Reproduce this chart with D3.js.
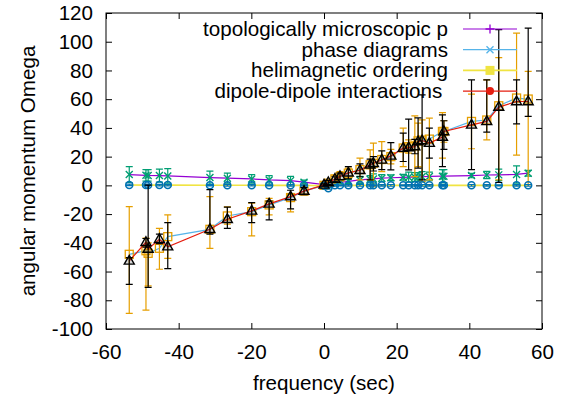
<!DOCTYPE html>
<html>
<head>
<meta charset="utf-8">
<script src="https://cdn.jsdelivr.net/npm/d3@7"></script>
<style>
body { margin: 0; background: #fff; }
svg text { font-family: "Liberation Sans", Arial, Helvetica, sans-serif; font-size: 20.6px; fill: #000; }
</style>
</head>
<body>
<div id="chart"></div>
<script>
// datos
const freq = [-53.6, -49.0, -48.4, -45.3, -43.0, -31.4, -26.6, -19.9, -15.1, -9.2, -5.5, 0.0, 1.2, 3.0, 4.4, 6.7, 9.9, 12.7, 13.6, 15.9, 18.4, 21.8, 23.3, 25.0, 25.9, 27.0, 29.0, 32.6, 33.0, 40.6, 44.8, 48.1, 53.0, 56.2];

const seriesNames = ['topologically microscopic p', 'phase diagrams', 'helimagnetic ordering', 'dipole-dipole interactions '];

const topoY = [7.5, 7.0, 6.9, 6.8, 6.6, 5.4, 5.0, 4.5, 3.8, 3.3, 2.2, 0.5, 0.8, 1.5, 2.0, 2.8, 3.8, 4.3, 4.5, 5.0, 5.3, 5.6, 5.7, 5.8, 5.9, 6.0, 6.2, 6.4, 6.4, 6.8, 7.2, 7.3, 7.6, 8.5];
const topoErr = [5.5, 4, 4, 4.5, 5, 4.5, 3.5, 3, 3, 3, 1.5, 1, 1, 1, 1, 1.5, 2.5, 2.5, 3.5, 2.5, 2, 2, 3.5, 3, 3, 3.5, 3, 4.5, 4.5, 1.5, 2.5, 4, 6, 2];

const phaseY = [-48.0, -45.5, -47.3, -43.8, -35.7, -30.6, -21.3, -18.3, -13.6, -8.5, -4.0, 0.0, 1.5, 4.5, 6.0, 8.5, 11.0, 14.3, 15.4, 18.0, 20.0, 26.0, 27.0, 27.5, 31.0, 31.5, 32.2, 37.5, 37.5, 44.5, 45.5, 55.4, 60.8, 60.1];
const phaseLo = [-89.1, -86.8, -70, -58.4, -50.8, -43.8, -27, -35.2, -20.6, -18.5, -6, -1, 0, 2, 3, 5, 3.8, 3.8, -0.9, 9.6, 15, 13.1, 22.4, 6.1, 13.1, 2.6, 3.8, 18.9, 30, 25.5, 31.7, 3.8, 21, 0.3];
const phaseHi = [-14.8, -36.8, -40, -30, -20.6, -7.8, -15, -12.4, -9, -6.5, -2, 1, 3, 7, 9.5, 12, 18.9, 24.7, 29.4, 30.5, 25, 39.8, 31.7, 48.4, 43.3, 45.6, 46.8, 50.7, 45, 63.5, 73.5, 89, 106, 79.3];

const heliY = [0.3, 0.2, 0.2, 0.2, 0.2, 0.1, 0.1, 0.1, 0.0, 0.0, 0.0, -0.3, -2.0, 0.0, 0.0, 0.0, 0.0, 0.0, 0.0, 0.0, 0.0, 0.0, 0.0, 0.0, 0.0, 0.0, 0.0, 0.0, 0.0, 0.0, 0.0, 0.0, 0.0, 0.0];
const heliErr = [0.5, 0.6, 0.4, 0.5, 0.5, 0.4, 0.6, 0.5, 0.4, 0.5, 0.3, 0.4, 0.6, 0.5, 0.4, 0.5, 0.6, 0.5, 0.4, 0.5, 0.6, 0.4, 0.5, 0.5, 0.4, 0.6, 0.5, 0.5, 0.4, 0.6, 0.5, 0.4, 0.5, 0.6];

const dipoleY = [-52.6, -39.6, -44.3, -37.5, -42.7, -30.6, -23.6, -17.8, -12.9, -7.8, -4.0, 0.3, 2.0, 4.3, 6.2, 8.7, 10.5, 14.3, 15.4, 17.7, 20.5, 25.9, 26.3, 27.0, 30.5, 31.2, 29.4, 33.6, 37.5, 42.1, 44.5, 54.5, 58.4, 58.4];
const dipoleLo = [-68.9, -43, -71, -40.5, -58, -34, -30, -26, -24, -16.3, -6.5, -0.5, 0.5, 2.5, 4, 4.5, 6, 3.8, 10, 11, 10.8, 16.6, 10.8, 22, 12, 3.8, 18.9, 13.1, 25, 11, 37, 2, 42.8, 48];
const dipoleHi = [-50.3, -37, 0.2, -34, -26, -3, -15.2, -12, -11, -3.4, -1.5, 1.1, 3.5, 6, 8.5, 13, 15, 18.2, 20, 24, 29.8, 36.4, 46.1, 32, 47, 63, 39.8, 49.1, 45, 73.5, 73.5, 108.4, 73.5, 109.5];

const xTicks = [-60, -40, -20, 0, 20, 40, 60];
const yTicks = [-100, -80, -60, -40, -20, 0, 20, 40, 60, 80, 100, 120];

// tabla de series
let series = [
    {name: seriesNames[0], line: '#9400d3', err: '#009e73', key: 'plus', mark: 'x', lw: 1.2,
        ys: topoY, lo: topoY.map((v, i) => v - topoErr[i]), hi: topoY.map((v, i) => v + topoErr[i])},
    {name: seriesNames[1], line: '#56b4e9', err: '#e69f00', key: 'x', mark: 'square', lw: 1.2,
        ys: phaseY, lo: phaseLo, hi: phaseHi},
    {name: seriesNames[2], line: '#f0e442', err: '#0072b2', key: 'fsquare', mark: 'circle', lw: 1.6,
        ys: heliY, lo: heliY.map((v, i) => v - heliErr[i]), hi: heliY.map((v, i) => v + heliErr[i])},
    {name: seriesNames[3], line: '#e51e10', err: '#000000', key: 'fcircle', mark: 'triangle', lw: 1.2,
        ys: dipoleY, lo: dipoleLo, hi: dipoleHi}
];

let width = 571, height = 397;

let x = d3.scaleLinear().domain([-60, 60]).range([106, 542]);
let y = d3.scaleLinear().domain([-100, 120]).range([329, 13]);

const svg = d3.select('#chart')
    .append('svg')
    .attr('width', width)
    .attr('height', height);

// ejes con ticks hacia dentro
svg.append('g')
    .attr('transform', 'translate(0,329)')
    .call(d3.axisBottom(x).tickValues(xTicks).tickSize(-6).tickPadding(15).tickFormat(d => String(d)))
    .call(g => g.select('.domain').remove());

svg.append('g')
    .attr('transform', 'translate(0,13)')
    .call(d3.axisTop(x).tickValues(xTicks).tickSize(-6).tickFormat(''))
    .call(g => g.select('.domain').remove());

svg.append('g')
    .attr('transform', 'translate(106,0)')
    .call(d3.axisLeft(y).tickValues(yTicks).tickSize(-6).tickPadding(13).tickFormat(d => String(d)))
    .call(g => g.select('.domain').remove());

svg.append('g')
    .attr('transform', 'translate(542,0)')
    .call(d3.axisRight(y).tickValues(yTicks).tickSize(-6).tickFormat(''))
    .call(g => g.select('.domain').remove());

svg.selectAll('.tick line').attr('stroke', '#000');

svg.append('rect')
    .attr('x', 106)
    .attr('y', 13)
    .attr('width', 436)
    .attr('height', 316)
    .attr('fill', 'none')
    .attr('stroke', '#000');

//Títulos
svg.append('text')
    .attr('x', 324)
    .attr('y', 390)
    .attr('text-anchor', 'middle')
    .text('frequency (sec)');

svg.append('text')
    .attr('transform', 'translate(35,171) rotate(-90)')
    .attr('text-anchor', 'middle')
    .text('angular momentum Omega');

function drawMark(g, type, cx, cy, color) {
    if(type == 'x') {
        g.append('path')
            .attr('d', `M${cx-3.5},${cy-3.5}L${cx+3.5},${cy+3.5}M${cx-3.5},${cy+3.5}L${cx+3.5},${cy-3.5}`)
            .attr('stroke', color).attr('stroke-width', 1.4).attr('fill', 'none');
    } else if(type == 'plus') {
        g.append('path')
            .attr('d', `M${cx-4.5},${cy}L${cx+4.5},${cy}M${cx},${cy-4.5}L${cx},${cy+4.5}`)
            .attr('stroke', color).attr('stroke-width', 1.3).attr('fill', 'none');
    } else if(type == 'square') {
        g.append('rect')
            .attr('x', cx - 4).attr('y', cy - 4).attr('width', 8).attr('height', 8)
            .attr('stroke', color).attr('stroke-width', 1.3).attr('fill', 'none');
    } else if(type == 'fsquare') {
        g.append('rect')
            .attr('x', cx - 4.5).attr('y', cy - 4.5).attr('width', 9).attr('height', 9)
            .attr('fill', color);
    } else if(type == 'circle') {
        g.append('circle')
            .attr('cx', cx).attr('cy', cy).attr('r', 3.5)
            .attr('stroke', color).attr('stroke-width', 1.5).attr('fill', 'none');
    } else if(type == 'fcircle') {
        g.append('circle')
            .attr('cx', cx).attr('cy', cy).attr('r', 4)
            .attr('fill', color);
    } else if(type == 'triangle') {
        g.append('path')
            .attr('d', `M${cx},${cy-5.5}L${cx+5},${cy+3.2}L${cx-5},${cy+3.2}Z`)
            .attr('stroke', color).attr('stroke-width', 1.4).attr('fill', 'rgba(0,0,0,0.15)');
    }
}

let line = d3.line()
    .x(d => x(d[0]))
    .y(d => y(d[1]));

//Series: línea y barras de error
series.forEach(function(s) {
    let pts = freq.map((f, i) => [f, s.ys[i]]);

    svg.append('path')
        .datum(pts)
        .attr('d', line)
        .attr('fill', 'none')
        .attr('stroke', s.line)
        .attr('stroke-width', s.lw);

    let g = svg.append('g');
    freq.forEach(function(f, i) {
        let cx = x(f);
        let y0 = y(s.lo[i]), y1 = y(s.hi[i]);
        g.append('path')
            .attr('d', `M${cx},${y0}L${cx},${y1}M${cx-3.5},${y0}L${cx+3.5},${y0}M${cx-3.5},${y1}L${cx+3.5},${y1}`)
            .attr('stroke', s.err)
            .attr('stroke-width', 1.2)
            .attr('fill', 'none');
        drawMark(g, s.mark, cx, y(s.ys[i]), s.err);
    });
});

//Leyenda
let key = svg.append('g');
series.forEach(function(s, i) {
    let ry = 29 + i * 20.7;
    key.append('text')
        .attr('x', 448)
        .attr('y', ry + 7)
        .attr('text-anchor', 'end')
        .style('white-space', 'pre')
        .text(s.name);
    key.append('line')
        .attr('x1', 463).attr('x2', 517)
        .attr('y1', ry).attr('y2', ry)
        .attr('stroke', s.line)
        .attr('stroke-width', s.lw);
    drawMark(key, s.key, 490, ry, s.line);
});
</script>
</body>
</html>
